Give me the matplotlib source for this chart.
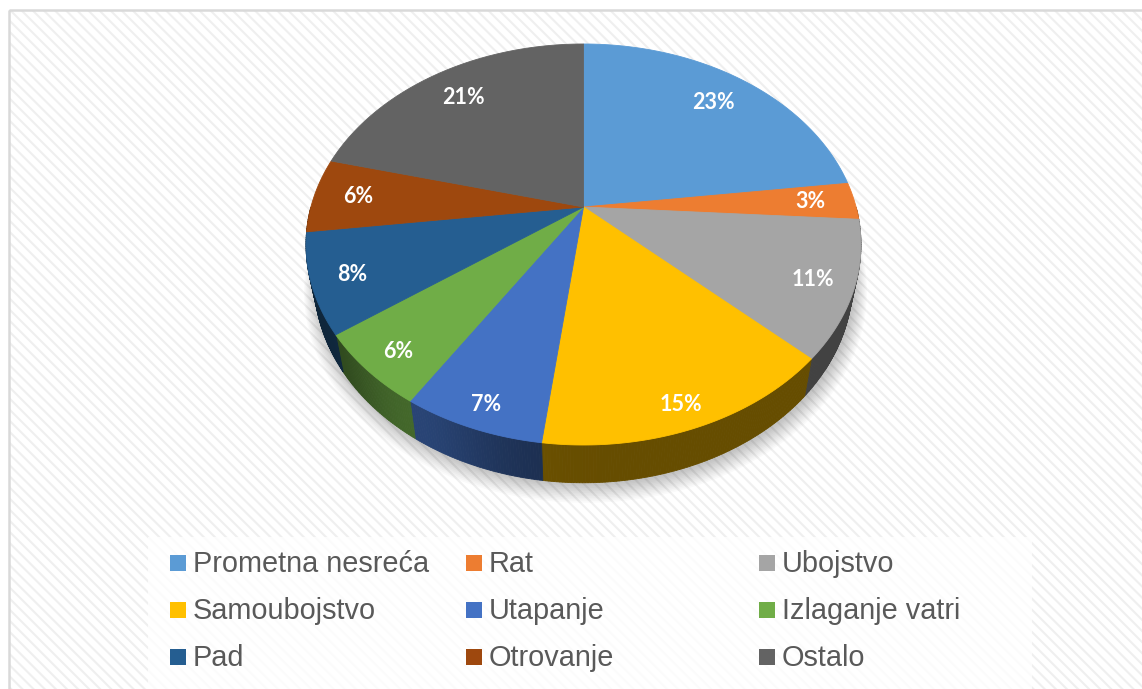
import numpy as np
import matplotlib
matplotlib.use("Agg")
import matplotlib.pyplot as plt
from matplotlib.patches import Polygon, Rectangle
from matplotlib.colors import to_rgb

# ---------------- data ----------------
categories = ["Prometna nesreća", "Rat", "Ubojstvo", "Samoubojstvo", "Utapanje",
              "Izlaganje vatri", "Pad", "Otrovanje", "Ostalo"]
values = [23, 3, 11, 15, 7, 6, 8, 6, 21]
colors = ["#5B9BD5", "#ED7D31", "#A5A5A5", "#FFC000", "#4472C4",
          "#70AD47", "#255E91", "#9E480E", "#636363"]

# ---------------- figure ----------------
W, H_PX = 1142, 689
fig = plt.figure(figsize=(W / 100, H_PX / 100), dpi=100)
ax = fig.add_axes([0, 0, 1, 1])
ax.set_xlim(0, W)
ax.set_ylim(H_PX, 0)
ax.axis("off")

plt.rcParams["hatch.linewidth"] = 1.5
bg = Rectangle((8.5, 9.5), W + 20, H_PX + 20, facecolor="white",
               edgecolor="#efefef", hatch="\\\\\\", lw=0, zorder=0)
ax.add_patch(bg)
border = Rectangle((8.5, 9.5), W + 20, H_PX + 20, fill=False,
                   edgecolor="#d9d9d9", lw=1.8, zorder=0.5)
ax.add_patch(border)

# ---------------- 3D pie projection ----------------
cx, cy = 583.5, 207.0
R, B, k = 272.6, 193.5, 0.187
DEPTH, G = 36.5, 0.97   # thickness and perspective shrink of the bottom face


def proj(th_deg, r=1.0, z=0.0):
    th = np.radians(th_deg)
    x = r * np.cos(th)
    y = r * np.sin(th)
    f = 1.0 / (1.0 + k * y)
    g = 1.0 - (1.0 - G) * z
    return cx + R * x * f * g, cy - B * y * f * g + DEPTH * z * f


def shade(rgb, fac):
    return tuple(np.clip(np.array(rgb) * fac, 0, 1))


total = float(sum(values))
cum = np.concatenate([[0], np.cumsum(values)]) / total
starts = 90 - 360 * cum[:-1]
ends = 90 - 360 * cum[1:]

# soft shadow
n_sh = 12
for i in range(n_sh):
    th = np.linspace(0, 360, 361)
    xs, ys = proj(th, 1.0 + 0.004 * i, 1.0)
    ax.add_patch(Polygon(np.column_stack([xs + 2, ys + 2 + 0.45 * i]), closed=True,
                         facecolor="#000000", alpha=0.02, lw=0, zorder=1))

# sides (front arc)
for s, e, c in zip(starts, ends, colors):
    a_hi = min(s, 0.0)
    a_lo = max(e, -180.0)
    if a_hi <= a_lo:
        continue
    base = to_rgb(c)
    n = max(int((a_hi - a_lo) / 0.5), 2)
    th = np.linspace(a_hi, a_lo, n + 1)
    for t1, t2 in zip(th[:-1], th[1:]):
        tm = 0.5 * (t1 + t2)
        fac = 0.40 + 0.20 * np.exp(-((tm + 122) / 16.0) ** 2)
        col = shade(base, fac)
        x1, y1 = proj(t1, 1, 0)
        x2, y2 = proj(t2, 1, 0)
        x3, y3 = proj(t2, 1, 1)
        x4, y4 = proj(t1, 1, 1)
        ax.add_patch(Polygon([(x1, y1), (x2, y2), (x3, y3), (x4, y4)], closed=True,
                             facecolor=col, edgecolor=col, lw=0.6, zorder=2))

# top faces
for s, e, c in zip(starts, ends, colors):
    n = max(int(abs(s - e) / 0.5), 2)
    th = np.linspace(s, e, n + 1)
    xs, ys = proj(th, 1, 0)
    pts = [(cx, cy)] + list(zip(xs, ys))
    ax.add_patch(Polygon(pts, closed=True, facecolor=c, edgecolor=c, lw=0.6, zorder=3))

# data labels
for s, e, v in zip(starts, ends, values):
    m = 0.5 * (s + e)
    sm = np.sin(np.radians(m))
    r = 0.79 + 0.05 * (1 - sm)
    lx, ly = proj(m, r, 0)
    ly += 6 * max(0.0, -sm)
    ax.text(lx, ly, f"{v}%", ha="center", va="center", color="white",
            fontsize=15.5, fontweight="bold", family=["Lato", "DejaVu Sans"], zorder=5)

# ---------------- legend ----------------
ax.add_patch(Rectangle((148, 537), 884, 170, facecolor="white", alpha=0.8, lw=0, zorder=4))
col_x = [170, 466, 759]
row_y = [563, 610, 657]
for i, (name, c) in enumerate(zip(categories, colors)):
    r_i, c_i = divmod(i, 3)
    x0, yc = col_x[c_i], row_y[r_i]
    ax.add_patch(Rectangle((x0, yc - 8), 16, 16, facecolor=c, lw=0, zorder=5))
    ax.text(x0 + 23, yc + 9, name, ha="left", va="baseline", color="#595959",
            fontsize=20.8, family=["Liberation Sans", "DejaVu Sans"], zorder=5)

fig.savefig("out.png", dpi=100)
